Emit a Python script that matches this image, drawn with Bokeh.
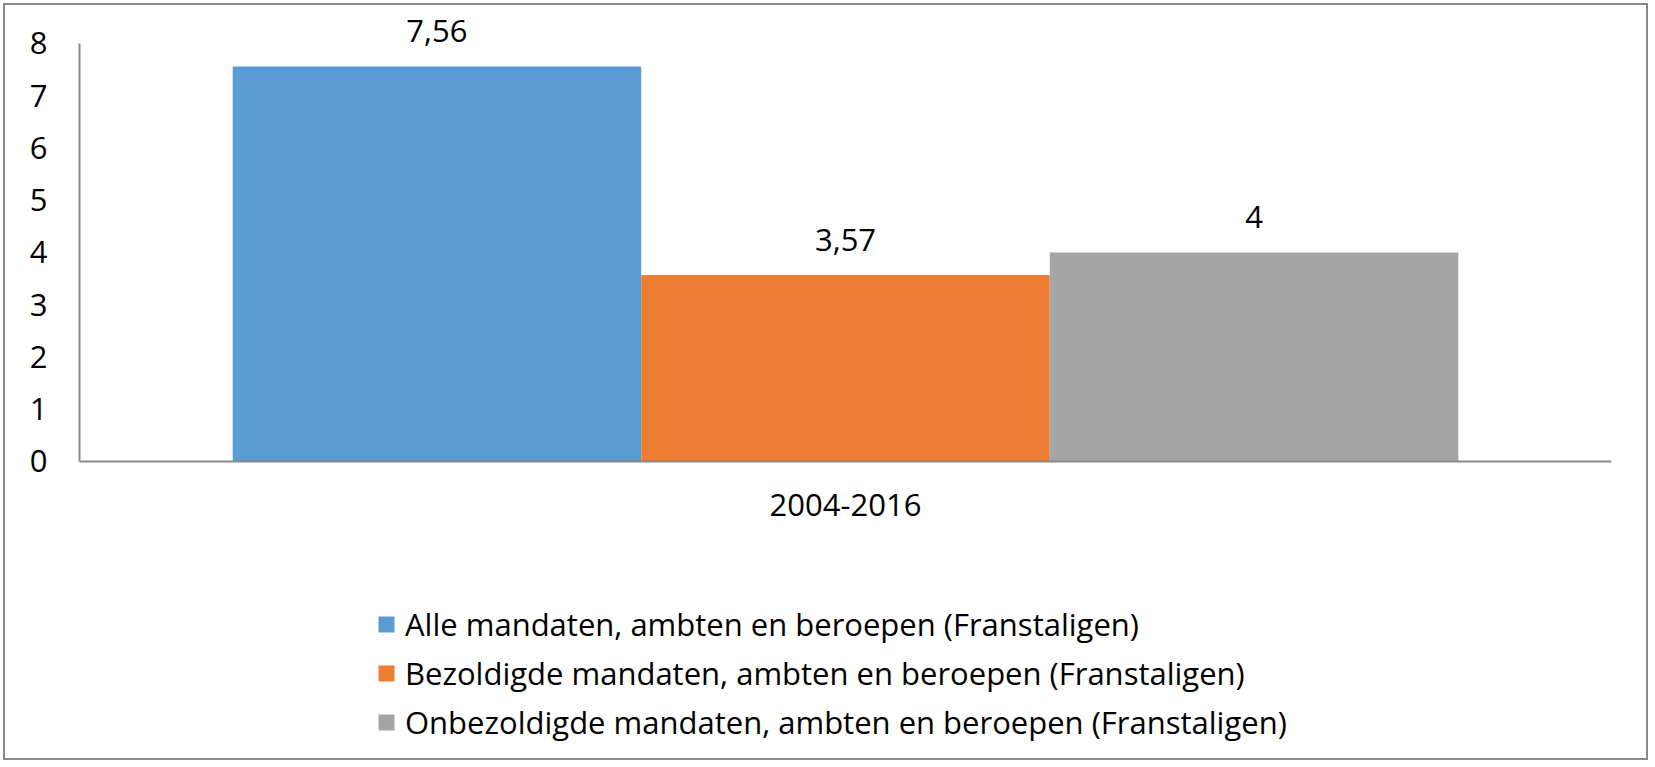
from bokeh.plotting import figure
from bokeh.models import (ColumnDataSource, Range1d, FactorRange, FixedTicker,
                          Legend, LegendItem)
from bokeh.transform import dodge
from bokeh.core.properties import value
from bokeh.embed import file_html
from bokeh.resources import INLINE

categories = ["2004-2016"]
series_names = [
    "Alle mandaten, ambten en beroepen (Franstaligen)",
    "Bezoldigde mandaten, ambten en beroepen (Franstaligen)",
    "Onbezoldigde mandaten, ambten en beroepen (Franstaligen)",
]
series_values = [[7.56], [3.57], [4.0]]
series_labels = [["7,56"], ["3,57"], ["4"]]
colors = ["#5B9BD5", "#ED7D31", "#A5A5A5"]
y_ticks = [0, 1, 2, 3, 4, 5, 6, 7, 8]
y_axis_max = 8

FONT = "Open Sans"
FS = "31px"
AXIS_COLOR = "#898989"

p = figure(width=1645, height=757, x_range=FactorRange(*categories, range_padding=0),
           y_range=Range1d(-5.761, 8.727), output_backend="svg", toolbar_location=None,
           min_border_left=74, min_border_right=39, min_border_top=0, min_border_bottom=0)
p.styles = {"border": "2px solid " + AXIS_COLOR, "margin": "3px 0 0 3px"}
p.outline_line_color = None
p.xgrid.visible = False
p.ygrid.visible = False

bar_w = 0.8 / 3
offsets = [-bar_w, 0.0, bar_w]
items = []
for name, vals, labs, col, off in zip(series_names, series_values, series_labels, colors, offsets):
    src = ColumnDataSource(dict(cat=categories, v=vals, lab=labs))
    r = p.vbar(x=dodge("cat", off, range=p.x_range), top="v", width=bar_w, source=src,
               fill_color=col, line_color=None)
    p.text(x=dodge("cat", off, range=p.x_range), y="v", text="lab", source=src,
           text_align="center", text_baseline="middle", y_offset=-35,
           text_font=value(FONT), text_font_size=FS, text_color="black")
    items.append(LegendItem(label=name, renderers=[r]))

legend = Legend(items=items, location=(297, 19), orientation="vertical",
                glyph_width=20, glyph_height=20, label_height=42, spacing=7,
                label_standoff=9, padding=0, margin=0, border_line_alpha=0,
                background_fill_alpha=0, label_text_font=FONT, label_text_font_size=FS,
                label_text_color="black")
p.add_layout(legend, "center")

yax = p.yaxis[0]
yax.ticker = FixedTicker(ticks=y_ticks)
yax.bounds = (0, y_axis_max)
yax.axis_line_color = AXIS_COLOR
yax.axis_line_width = 2
yax.major_tick_line_color = None
yax.minor_tick_line_color = None
yax.major_tick_out = 0
yax.major_label_standoff = 32
yax.major_label_text_font = FONT
yax.major_label_text_font_size = FS
yax.major_label_text_color = "black"

xax = p.xaxis[0]
xax.fixed_location = 0
xax.axis_line_color = AXIS_COLOR
xax.axis_line_width = 2
xax.major_tick_line_color = None
xax.minor_tick_line_color = None
xax.major_tick_out = 0
xax.major_label_standoff = 33
xax.major_label_text_font = FONT
xax.major_label_text_font_size = FS
xax.major_label_text_color = "black"

open("out.html", "w").write(file_html(p, INLINE))
